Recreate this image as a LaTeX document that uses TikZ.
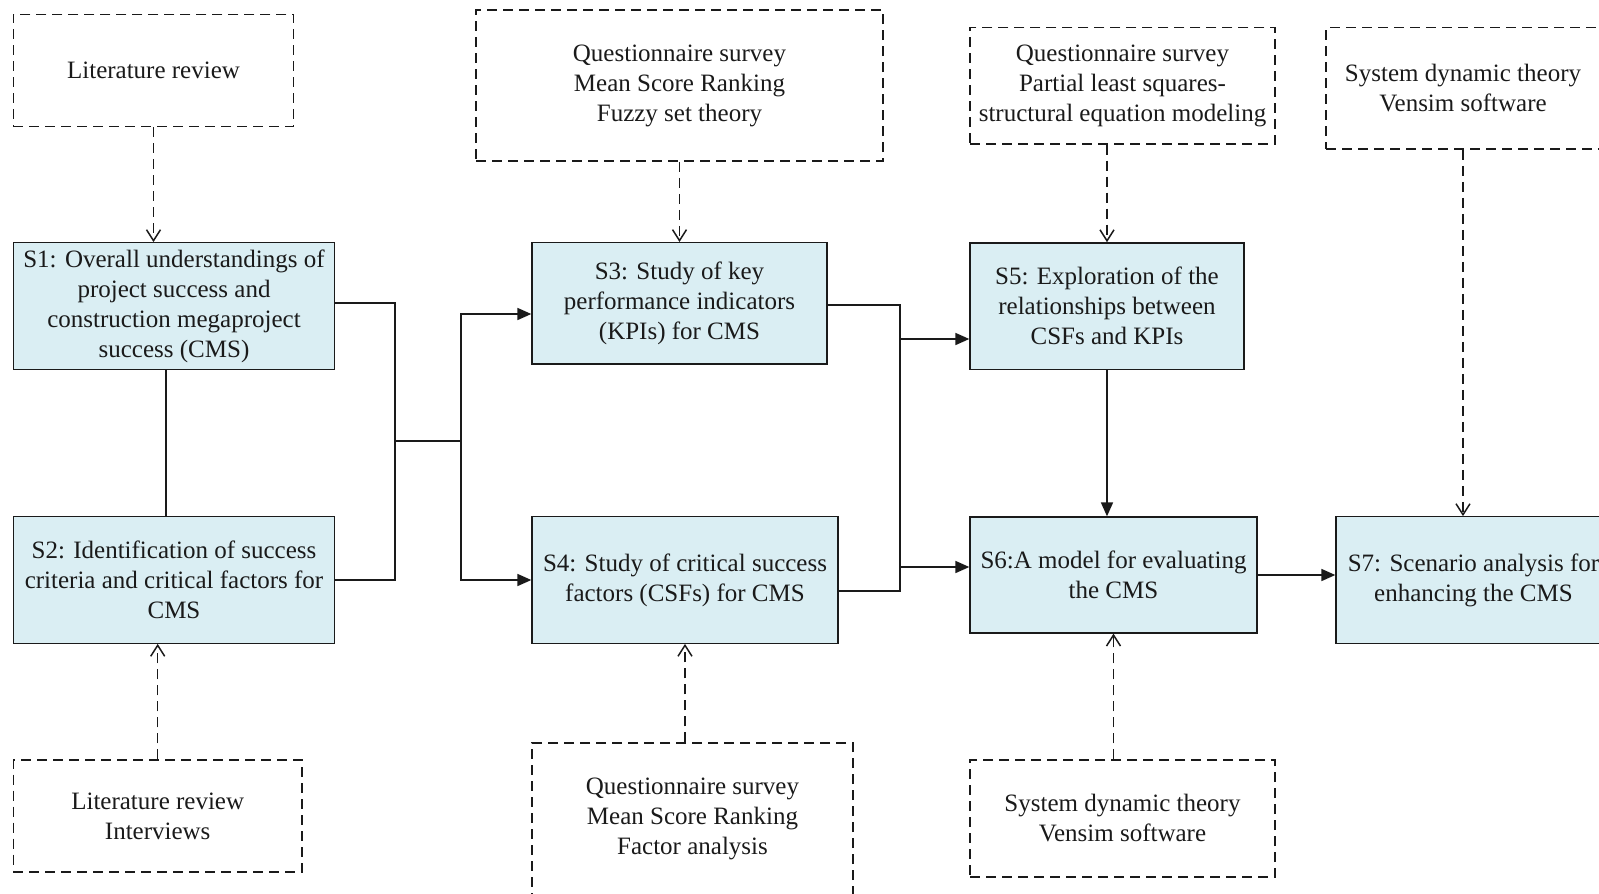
\documentclass[tikz,border=0pt]{standalone}
\usepackage{fontspec}
\setmainfont{Liberation Serif}
\usetikzlibrary{arrows.meta}
\definecolor{stagefill}{HTML}{DAEEF3}
\definecolor{ink}{HTML}{1A1A1A}
\begin{document}
\begin{tikzpicture}[x=1pt,y=-1pt,
  every node/.style={font=\fontsize{25}{30}\selectfont, text=ink, align=center, inner sep=0pt},
  stagebox/.style={draw=ink, fill=stagefill, line width=1.3pt},
  methodbox/.style={draw=ink, line width=1.5pt, dash pattern=on 10pt off 6pt},
  flow/.style={draw=ink, line width=1.7pt},
  flowarrow/.style={flow, -{Triangle[length=14pt,width=12pt]}},
  methodarrow/.style={draw=ink, line width=1.5pt, dash pattern=on 10pt off 6pt,
    -{Straight Barb[length=11pt,width=14pt]}},
]
\useasboundingbox (0,0) rectangle (1599,894);
\clip (0,0) rectangle (1599,894);

% stage boxes
\node[stagebox, minimum width=321pt, minimum height=126.5pt] (s1) at (174,306)
  {S1: Overall understandings of\\project success and\\construction megaproject\\success (CMS)};
\node[stagebox, minimum width=321pt, minimum height=126.5pt] (s2) at (174,580)
  {S2: Identification of success\\criteria and critical factors for\\CMS};
\node[stagebox, minimum width=295pt, minimum height=121.3pt] (s3) at (679.5,303.3)
  {S3: Study of key\\performance indicators\\(KPIs) for CMS};
\node[stagebox, minimum width=306pt, minimum height=126.5pt] (s4) at (685,580)
  {S4: Study of critical success\\factors (CSFs) for CMS};
\node[stagebox, minimum width=274pt, minimum height=126.3pt] (s5) at (1107,306)
  {S5: Exploration of the\\relationships between\\CSFs and KPIs};
\node[stagebox, minimum width=287pt, minimum height=116pt] (s6) at (1113.5,575)
  {S6:A model for evaluating\\the CMS};
\node[stagebox, minimum width=275pt, minimum height=126.5pt] (s7) at (1473.5,580)
  {S7: Scenario analysis for\\enhancing the CMS};

% method boxes
\node[methodbox, minimum width=280.4pt, minimum height=112.2pt] (lr1) at (153.5,70.4)
  {Literature review};
\node[methodbox, minimum width=407pt, minimum height=150.8pt] (q1) at (679.5,85.6)
  {Questionnaire survey\\Mean Score Ranking\\Fuzzy set theory};
\node[methodbox, minimum width=305pt, minimum height=116.3pt] (q3) at (1122.5,85.6)
  {Questionnaire survey\\Partial least squares-\\structural equation modeling};
\node[methodbox, minimum width=274pt, minimum height=121.5pt] (q4) at (1463,88.3)
  {System dynamic theory\\Vensim software};
\node[methodbox, minimum width=288.7pt, minimum height=112pt] (lr2) at (157.7,816)
  {Literature review\\Interviews};
\node[methodbox, minimum width=321pt, minimum height=152pt] (q2) at (692.5,819)
  {Questionnaire survey\\Mean Score Ranking\\Factor analysis};
\node[methodbox, minimum width=305pt, minimum height=117pt] (q5) at (1122.5,818.5)
  {System dynamic theory\\Vensim software};

% method links
\draw[methodarrow] (lr1.south) -- (lr1.south |- s1.north);
\draw[methodarrow] (q1.south) -- (s3.north);
\draw[methodarrow] (q3.south -| s5.north) -- (s5.north);
\draw[methodarrow] (q4.south) -- (q4.south |- s7.north);
\draw[methodarrow] (lr2.north) -- (lr2.north |- s2.south);
\draw[methodarrow] (q2.north -| s4.south) -- (s4.south);
\draw[methodarrow] (q5.north -| s6.south) -- (s6.south);

% S1 -- S2
\draw[flow] ([xshift=-8pt]s1.south) -- ([xshift=-8pt]s1.south |- s2.north);

% S1, S2 merge and split to S3, S4
\coordinate (m1) at (395,441);
\coordinate (m2) at (461,441);
\draw[flow] ([yshift=3pt]s1.east) -| (m1) |- (s2.east);
\draw[flow] (m1) -- (m2);
\coordinate (a3) at ([yshift=-10.7pt]s3.west);
\draw[flowarrow] (m2) |- (a3);
\draw[flowarrow] (m2) |- (s4.west);

% S3, S4 merge and split to S5, S6
\coordinate (m3) at (900,450);
\draw[flow] ([yshift=-1.7pt]s3.east) -| (m3) |- ([yshift=-11pt]s4.east);
\coordinate (a5) at ([yshift=-33pt]s5.west);
\coordinate (a6) at ([yshift=8pt]s6.west);
\draw[flowarrow] (a5 -| m3) -- (a5);
\draw[flowarrow] (a6 -| m3) -- (a6);

% S5 -> S6 -> S7
\draw[flowarrow] (s5.south) -- (s5.south |- s6.north);
\draw[flowarrow] (s6.east) -- (s6.east -| s7.west);
\end{tikzpicture}
\end{document}
